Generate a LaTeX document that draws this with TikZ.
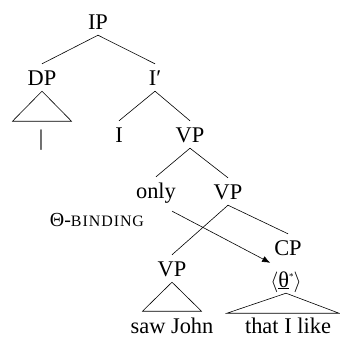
\documentclass[tikz,border=0pt]{standalone}
\usepackage{fontspec}
\setmainfont{Liberation Serif}
\usetikzlibrary{arrows.meta}
\begin{document}
\begin{tikzpicture}[x=1bp,y=-1bp,
  lab/.style={anchor=base,inner xsep=1bp,inner ysep=6bp,text height=15bp,text depth=0bp,font=\fontsize{22.5}{27}\selectfont},
  plain/.style={inner sep=0pt,font=\fontsize{22.5}{27}\selectfont},
  edge/.style={line width=0.6bp},
  tri/.style={line width=0.6bp},
  bind/.style={line width=0.6bp,-{Latex[length=8bp,width=6.5bp]}}]
\useasboundingbox (0,0) rectangle (340,338);
\node[lab] (IP) at (98,29) {IP};
\node[lab] (DP) at (42,85) {DP};
\node[lab] (Ibar) at (155,85) {I′};
\node[plain] (bar) at (41,140) {|};
\node[lab] (I) at (119,142) {I};
\node[lab] (VPa) at (190,142) {VP};
\node[lab] (only) at (156,198) {only};
\node[lab] (VPb) at (228,199) {VP};
\node[lab] (CP) at (288,255) {CP};
\node[lab] (theta) at (286,287) {$\langle$\underline{θ}\raisebox{8bp}{\fontsize{9}{9}\selectfont *}$\rangle$};
\node[lab] (VPc) at (172,276) {VP};
\node[plain,anchor=base] (saw) at (172,333) {saw John};
\node[plain,anchor=base] (that) at (288,333) {that I like};
\node[inner sep=0pt,anchor=base] (binding) at (97,226) {\fontsize{20}{24}\selectfont Θ-\fontsize{16}{18}\selectfont\addfontfeature{LetterSpace=6}BINDING};
\draw[edge] (IP.south) -- (DP.north);
\draw[edge] (IP.south) -- (Ibar.north);
\draw[edge] (Ibar.south) -- (I.north);
\draw[edge] (Ibar.south) -- (VPa.north);
\draw[edge] (VPa.south) -- (only.north);
\draw[edge] (VPa.south) -- (VPb.north);
\draw[edge] (VPb.south) -- (VPc.north);
\draw[edge] (VPb.south) -- (CP.north);
\draw[tri] (DP.south) -- ++(-29.5,30) -- ++(59,0) -- cycle;
\draw[tri] (VPc.south) -- ++(-29.5,29) -- ++(59,0) -- cycle;
\draw[tri] (theta.south) -- ++(-59,20) -- ++(112,0) -- cycle;
\draw[bind] ([xshift=-5bp,yshift=-7bp]only.south east) -- ([xshift=1bp,yshift=3bp]theta.north west);
\end{tikzpicture}
\end{document}
